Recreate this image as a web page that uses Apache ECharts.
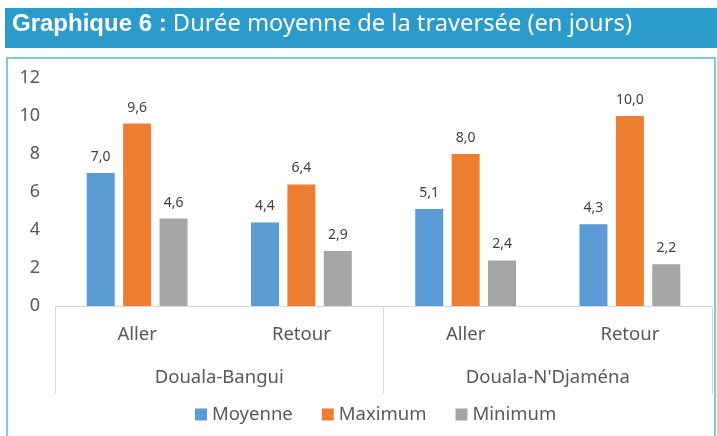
<!DOCTYPE html>
<html>
<head>
<meta charset="utf-8">
<script src="https://cdn.jsdelivr.net/npm/echarts@6/dist/echarts.min.js"></script>
<style>
  html, body { margin: 0; padding: 0; background: #fff; }
  #chart { width: 717px; height: 436px; }
</style>
</head>
<body>
<div id="chart"></div>
<script>
// ----------- 数据 -----------
var trajet_list = ["Aller", "Retour", "Aller", "Retour"]
var ligne_list = ["Douala-Bangui", "Douala-N'Djaména"]
var moyenne = [7.0, 4.4, 5.1, 4.3]
var maximum = [9.6, 6.4, 8.0, 10.0]
var minimum = [4.6, 2.9, 2.4, 2.2]
var y_ticks = [0, 2, 4, 6, 8, 10, 12]

var colorList = ['#5b9bd5', '#ed7d31', '#a5a5a5']
var texte_gris = '#595959'
var police = 'Noto Sans'

var chart = echarts.init(document.getElementById('chart'))

function serie(nom, data, idx) {
    return {
        name: nom,
        type: 'bar',
        data: data,
        barWidth: 28,
        barGap: '30%',
        itemStyle: { color: colorList[idx] },
        label: {
            show: true,
            position: 'top',
            distance: 9,
            fontFamily: police,
            fontSize: 14,
            color: '#404040',
            formatter: function (p) {
                return p.value.toFixed(1).replace('.', ',')
            }
        }
    }
}

var option = {
    animation: false,
    textStyle: { fontFamily: police },
    graphic: [
        {   // bandeau du titre
            type: 'rect',
            shape: { x: 5, y: 8, width: 712, height: 40 },
            style: { fill: '#2a9bca' }
        },
        {   // cadre
            type: 'rect',
            shape: { x: 7, y: 58, width: 708, height: 390 },
            style: { fill: 'none', stroke: '#4fb6e6', lineWidth: 1.5 }
        },
        {
            type: 'text',
            left: 12, top: 12,
            style: {
                text: '{b|Graphique 6 :}{r| Durée moyenne de la traversée (en jours)}',
                rich: {
                    b: { fontFamily: 'Liberation Sans', fontWeight: 'bold', fontSize: 24, fill: '#fff' },
                    r: { fontFamily: police, fontSize: 23.7, fill: '#fff' }
                }
            }
        }
    ],
    legend: {
        bottom: 7,
        left: 190,
        itemWidth: 12,
        itemHeight: 12,
        itemGap: 29,
        icon: 'rect',
        textStyle: { fontSize: 18.5, color: texte_gris, fontFamily: police },
        data: ['Moyenne', 'Maximum', 'Minimum']
    },
    grid: { left: 55, right: 5, top: 78, bottom: 130 },
    xAxis: [
        {
            type: 'category',
            data: trajet_list,
            axisLine: { lineStyle: { color: '#d9d9d9' } },
            axisTick: { show: true, interval: 1, length: 88, lineStyle: { color: '#d9d9d9' } },
            axisLabel: { margin: 19, fontSize: 18.5, color: texte_gris, fontFamily: police }
        },
        {
            type: 'category',
            position: 'bottom',
            offset: 43,
            data: ligne_list,
            axisLine: { show: false },
            axisTick: { show: false },
            axisLabel: { margin: 19, fontSize: 18.5, color: texte_gris, fontFamily: police }
        }
    ],
    yAxis: {
        type: 'value',
        min: y_ticks[0],
        max: y_ticks[y_ticks.length - 1],
        interval: 2,
        axisLine: { show: false },
        axisTick: { show: false },
        splitLine: { show: false },
        axisLabel: { margin: 15, fontSize: 18, color: texte_gris, fontFamily: police }
    },
    series: [
        serie('Moyenne', moyenne, 0),
        serie('Maximum', maximum, 1),
        serie('Minimum', minimum, 2)
    ]
}

chart.setOption(option)
</script>
</body>
</html>
